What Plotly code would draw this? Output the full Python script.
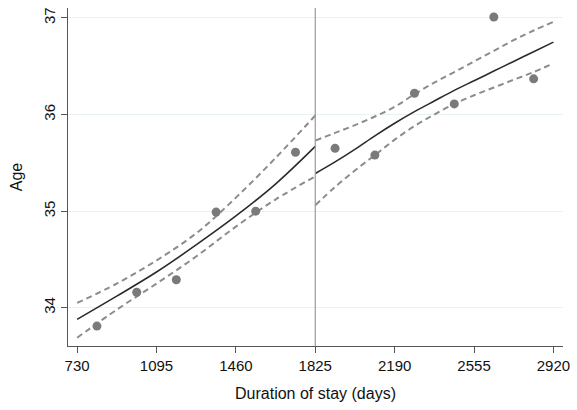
import plotly.graph_objects as go

# Scatter points (half-year bin means)
pt_days = [821, 1004, 1186, 1369, 1551, 1734, 1916, 2099, 2281, 2464, 2646, 2829]
pt_age = [33.81, 34.16, 34.29, 34.99, 35.00, 35.61, 35.65, 35.58, 36.22, 36.11, 37.01, 36.37]

# Left segment fit (730-1825)
left_days = [730, 912, 1095, 1277, 1460, 1642, 1825]
left_fit = [33.88, 34.12, 34.37, 34.65, 34.95, 35.28, 35.67]
left_hi = [34.05, 34.25, 34.49, 34.77, 35.14, 35.55, 35.99]
left_lo = [33.69, 33.98, 34.25, 34.53, 34.84, 35.12, 35.36]

# Right segment fit (1825-2920)
right_days = [1825, 1916, 2007, 2099, 2190, 2281, 2372, 2464, 2555, 2646, 2737, 2829, 2920]
right_fit = [35.39, 35.51, 35.64, 35.78, 35.91, 36.03, 36.14, 36.25, 36.35, 36.45, 36.55, 36.65, 36.75]
right_hi = [35.73, 35.81, 35.89, 35.98, 36.08, 36.21, 36.33, 36.44, 36.55, 36.66, 36.77, 36.87, 36.96]
right_lo = [35.06, 35.25, 35.42, 35.58, 35.74, 35.88, 36.00, 36.11, 36.20, 36.28, 36.36, 36.44, 36.53]

x_ticks = [730, 1095, 1460, 1825, 2190, 2555, 2920]
y_ticks = [34, 35, 36, 37]
cutoff = 1825

fig = go.Figure()

dash_style = dict(color="#8c8c8c", width=2, dash="6px,4px")
solid_style = dict(color="#2b2b2b", width=1.6)

for days, lo, hi, fit in [(left_days, left_lo, left_hi, left_fit),
                          (right_days, right_lo, right_hi, right_fit)]:
    fig.add_trace(go.Scatter(x=days, y=hi, mode="lines",
                             line=dict(**dash_style, shape="spline", smoothing=1.0), hoverinfo="skip"))
    fig.add_trace(go.Scatter(x=days, y=lo, mode="lines",
                             line=dict(**dash_style, shape="spline", smoothing=1.0), hoverinfo="skip"))
    fig.add_trace(go.Scatter(x=days, y=fit, mode="lines",
                             line=dict(**solid_style, shape="spline", smoothing=1.0)))

fig.add_trace(go.Scatter(x=pt_days, y=pt_age, mode="markers",
                         marker=dict(color="#7a7a7a", size=9, line=dict(width=0))))

fig.add_shape(type="line", x0=cutoff, x1=cutoff, xref="x", y0=0, y1=1, yref="paper",
              line=dict(color="#9a9a9a", width=1.2), layer="above")

FONT = "Liberation Sans, Arial, sans-serif"
fig.update_layout(
    width=577, height=410,
    margin=dict(l=68, r=8, t=7, b=64),
    paper_bgcolor="white", plot_bgcolor="white",
    showlegend=False,
    font=dict(family=FONT, color="#111111", size=15),
)
fig.update_xaxes(
    range=[688, 2964], tickvals=x_ticks, ticktext=[str(v) for v in x_ticks],
    showgrid=False, zeroline=False,
    showline=True, linecolor="#555555", linewidth=1.2,
    ticks="outside", ticklen=6, tickcolor="#555555", tickwidth=1.2,
    tickfont=dict(size=15),
    title=dict(text="Duration of stay (days)", font=dict(size=16), standoff=14),
)
fig.update_yaxes(
    range=[33.604, 37.103], tickvals=y_ticks, ticktext=[str(v) for v in y_ticks],
    showgrid=True, gridcolor="#e9f1f3", gridwidth=1, zeroline=False,
    showline=True, linecolor="#555555", linewidth=1.2,
    ticks="outside", ticklen=6, tickcolor="#555555", tickwidth=1.2,
    tickangle=-90, tickfont=dict(size=15),
    title=dict(text="Age", font=dict(size=16), standoff=14),
)

fig.write_html("out.html")
